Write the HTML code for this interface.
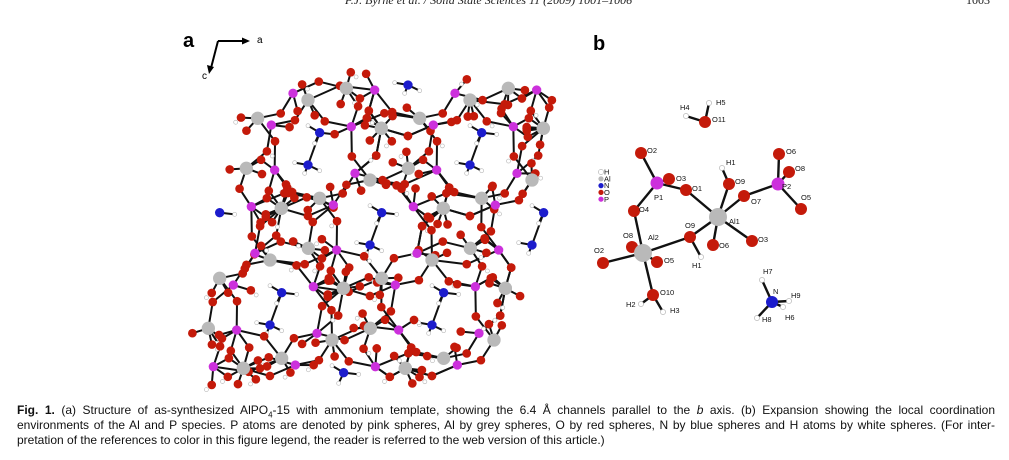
<!DOCTYPE html>
<html><head><meta charset="utf-8">
<style>
html,body{margin:0;padding:0;background:#fff;}
body{width:1009px;height:460px;position:relative;overflow:hidden;font-family:"Liberation Sans",sans-serif;}
.hdr{position:absolute;top:-7px;font-family:"Liberation Serif",serif;font-style:italic;font-size:12px;color:#222;white-space:nowrap;}
.cap{position:absolute;left:17px;width:978px;font-family:"Liberation Sans",sans-serif;font-size:12px;line-height:15px;color:#111;white-space:nowrap;}
.j{text-align:justify;text-align-last:justify;}
.cap b{font-weight:bold;}
svg{position:absolute;left:0;top:0;}
</style></head><body>
<div class="hdr" style="left:345px">P.J. Byrne et al. / Solid State Sciences 11 (2009) 1001–1006</div>
<div class="hdr" style="left:966px;font-style:normal">1003</div>
<svg id="s" width="1009" height="460" viewBox="0 0 1009 460">
<text x="183" y="47" font-family="Liberation Sans" font-weight="bold" font-size="20">a</text>
<text x="593" y="50" font-family="Liberation Sans" font-weight="bold" font-size="20">b</text>
<g stroke="#000" stroke-width="2" fill="none">
<line x1="218" y1="41" x2="244" y2="41"/><line x1="218" y1="41" x2="211" y2="68"/>
</g>
<polygon points="250,41 242,37.5 242,44.5" fill="#000"/>
<polygon points="209,74 207,65 214,67" fill="#000"/>
<text x="257" y="43" font-size="10" font-family="Liberation Sans">a</text>
<text x="202" y="79" font-size="10" font-family="Liberation Sans">c</text>
<g id="pa" transform="translate(180,60) scale(0.33333)"></g>
<g id="pb"></g>
</svg>
<div class="cap j" style="top:403px"><b>Fig. 1.</b> (a) Structure of as-synthesized AlPO<sub style="font-size:8px">4</sub>-15 with ammonium template, showing the 6.4 Å channels parallel to the <i>b</i> axis. (b) Expansion showing the local coordination</div>
<div class="cap j" style="top:418px">environments of the Al and P species. P atoms are denoted by pink spheres, Al by grey spheres, O by red spheres, N by blue spheres and H atoms by white spheres. (For inter-</div>
<div class="cap" style="top:433px">pretation of the references to color in this figure legend, the reader is referred to the web version of this article.)</div>
<script>
(function(){
var NS="http://www.w3.org/2000/svg";
function el(p,t,a){var e=document.createElementNS(NS,t);for(var k in a)e.setAttribute(k,a[k]);p.appendChild(e);return e;}
var C={O:"#c41a0a",Al:"#b9b9b9",P:"#cc30dc",N:"#1c1ccc",H:"#ffffff"};
var pa=document.getElementById("pa");
var A=[486,0],B=[186,240];
var Al=[[570,360],[605,655],[790,445],[385,565],[490,685]];
var P=[[525,340],[700,440],[460,435],[470,570]];
var N=[[605,458],[570,555]];
var H=[[570,437],[650,463],[590,490],[530,548],[605,572],[560,580]];
var poly=[[300,20],[1100,20],[1185,110],[1160,300],[1100,390],[1075,600],[1035,830],[880,880],[870,1000],[20,1000],[20,640],[110,600],[120,300],[150,160]];
function inside(x,y){var c=false;for(var i=0,j=poly.length-1;i<poly.length;j=i++){var xi=poly[i][0],yi=poly[i][1],xj=poly[j][0],yj=poly[j][1];if(((yi>y)!=(yj>y))&&(x<(xj-xi)*(y-yi)/(yj-yi)+xi))c=!c;}return c;}
function gen(list){var r=[];for(var i=-4;i<=4;i++)for(var j=-4;j<=4;j++)list.forEach(function(p){var x=p[0]+i*A[0]+j*B[0],y=p[1]+i*A[1]+j*B[1];if(inside(x,y))r.push([x,y]);});return r;}
var al=gen(Al),pp=gen(P),nn=gen(N),hh=gen(H);
var bonds=[],oxy=[],seen={};
function rnd(n){var x=Math.sin(n*12.9898)*43758.5453;return x-Math.floor(x);}
al.forEach(function(a,ai){
 var c=pp.map(function(p,pi){return [Math.hypot(p[0]-a[0],p[1]-a[1]),pi];}).filter(function(q){return q[0]>80&&q[0]<210;}).sort(function(x,y){return x[0]-y[0];}).slice(0,4);
 c.forEach(function(q){var p=pp[q[1]];var key=ai+"_"+q[1];if(seen[key])return;seen[key]=1;
  var mx=(a[0]+p[0])/2,my=(a[1]+p[1])/2,dx=p[0]-a[0],dy=p[1]-a[1],L=Math.hypot(dx,dy);
  var s=((ai+q[1])%2)?1:-1;var o=[mx-dy/L*28*s,my+dx/L*28*s];
  oxy.push(o);bonds.push([a,o]);bonds.push([o,p]);});
 for(var k=0;k<2;k++){var ang=rnd(ai*7+k)*6.28;var o=[a[0]+Math.cos(ang)*50,a[1]+Math.sin(ang)*50];oxy.push(o);bonds.push([a,o]);}
});
pp.forEach(function(p,pi){var ang=rnd(pi*3+100)*6.28;var o=[p[0]+Math.cos(ang)*55,p[1]+Math.sin(ang)*55];oxy.push(o);bonds.push([p,o]);});
var hy=[];
oxy.forEach(function(o,i){if(i%4==0){hy.push([o[0]+16*((i%8)?1:-1),o[1]+14]);}});
for(var i=0;i<nn.length;i++)for(var j=i+1;j<nn.length;j++){if(Math.hypot(nn[i][0]-nn[j][0],nn[i][1]-nn[j][1])<120)bonds.push([nn[i],nn[j]]);}
hh.forEach(function(h){var best=null,bd=1e9;nn.forEach(function(n){var d=Math.hypot(n[0]-h[0],n[1]-h[1]);if(d<bd){bd=d;best=n;}});if(bd<60)bonds.push([best,h]);});
var gb=el(pa,"g",{stroke:"#111","stroke-width":"6","stroke-linecap":"round"});
bonds.forEach(function(b){el(gb,"line",{x1:b[0][0],y1:b[0][1],x2:b[1][0],y2:b[1][1]});});
function dots(list,col,r,st){list.forEach(function(p){el(pa,"circle",{cx:p[0],cy:p[1],r:r,fill:col,stroke:st||"none","stroke-width":2});});}
dots(hy,"#fff",6,"#bbb");dots(hh.filter(function(h){return nn.some(function(n){return Math.hypot(n[0]-h[0],n[1]-h[1])<60;});}),"#fff",6,"#bbb");
dots(oxy,C.O,13);dots(pp,C.P,14);dots(al,C.Al,20);dots(nn,C.N,14);
var pb=document.getElementById("pb");
var at={
H4:[686,116,"H"],H5:[709,103,"H"],O11:[705,122,"O"],O2t:[641,153,"O"],P1:[657,183,"P"],O3t:[669,179,"O"],O1:[686,190,"O"],O4:[634,211,"O"],
Al1:[718,217,"Al"],H1t:[722,168,"H"],O9t:[729,184,"O"],O7:[744,196,"O"],P2:[778,184,"P"],O6t:[779,154,"O"],O8t:[789,172,"O"],O5t:[801,209,"O"],
O9l:[690,237,"O"],H1l:[701,257,"H"],O6l:[713,245,"O"],O3l:[752,241,"O"],Al2:[643,253,"Al"],O8l:[632,247,"O"],O2l:[603,263,"O"],O5l:[657,262,"O"],
O10:[653,295,"O"],H2:[641,304,"H"],H3:[663,312,"H"],N:[772,302,"N"],H7:[762,280,"H"],H9:[789,301,"H"],H6:[783,307,"H"],H8:[757,318,"H"]};
var bl=[["O2t","P1"],["P1","O3t"],["P1","O1"],["P1","O4"],["O4","Al2"],["O1","Al1"],["H1t","O9t"],["O9t","Al1"],["O7","Al1"],["O7","P2"],["P2","O6t"],["P2","O8t"],["P2","O5t"],["Al1","O9l"],["O9l","Al2"],["O9l","H1l"],["Al1","O6l"],["Al1","O3l"],["Al2","O2l"],["Al2","O8l"],["Al2","O5l"],["Al2","O10"],["O10","H2"],["O10","H3"],["H4","O11"],["H5","O11"],["N","H7"],["N","H9"],["N","H6"],["N","H8"]];
var g2=el(pb,"g",{stroke:"#111","stroke-width":"2.4"});
bl.forEach(function(b){var p=at[b[0]],q=at[b[1]];el(g2,"line",{x1:p[0],y1:p[1],x2:q[0],y2:q[1]});});
var R={O:6,Al:9,P:6.5,N:6,H:2.6};
["H","O","P","Al","N"].forEach(function(t){for(var k in at){var a=at[k];if(a[2]!==t)continue;el(pb,"circle",{cx:a[0],cy:a[1],r:R[t],fill:C[t],stroke:t=="H"?"#aaa":"none","stroke-width":0.6});}});
var lab=[["H4",680,110],["H5",716,105],["O11",712,122],["O2",647,153],["P1",654,200],["O3",676,181],["O1",692,191],["O4",639,212],["Al1",729,224],["H1",726,165],["O9",735,184],["O7",751,204],["P2",782,189],["O6",786,154],["O8",795,171],["O5",801,200],["O9",685,228],["H1",692,268],["O6",719,248],["O3",758,242],["Al2",648,240],["O8",623,238],["O2",594,253],["O5",664,263],["O10",660,295],["H2",626,307],["H3",670,313],["N",773,294],["H7",763,274],["H9",791,298],["H6",785,320],["H8",762,322]];
lab.forEach(function(l){var t=el(pb,"text",{x:l[1],y:l[2],"font-size":"7.5","font-family":"Liberation Sans",fill:"#111"});t.textContent=l[0];});
[["H","#fff"],["Al",C.Al],["N",C.N],["O",C.O],["P",C.P]].forEach(function(l,i){var y=172+i*6.8;el(pb,"circle",{cx:601,cy:y,r:2.6,fill:l[1],stroke:l[0]=="H"?"#999":"none","stroke-width":0.5});var t=el(pb,"text",{x:604,y:y+2.6,"font-size":"7.5","font-family":"Liberation Sans",fill:"#111"});t.textContent=l[0];});
})();
</script>
</body></html>
